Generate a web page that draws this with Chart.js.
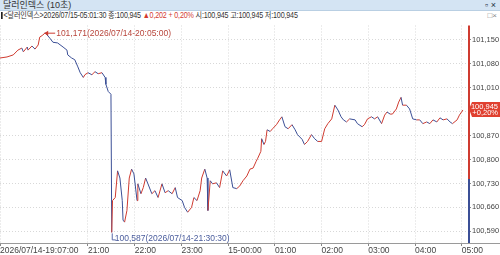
<!DOCTYPE html>
<html>
<head>
<meta charset="utf-8">
<script src="https://cdn.jsdelivr.net/npm/chart.js@4"></script>
<style>
    body { margin: 0; width: 500px; height: 255px; overflow: hidden; background: #fff;
           font-family: "Liberation Sans", "Noto Sans CJK KR", sans-serif; color: #333; }
    #titlebar { position: absolute; left: 0; top: 0; width: 500px; height: 10px; background: #d4e4f3;
                border-bottom: 1px solid #b9cfe3; font-size: 9px; line-height: 10px; }
    #titlebar .name { position: absolute; left: 3px; top: 0; }
    #titlebar .btn { position: absolute; right: 4px; top: 0; font-size: 9px; color: #234; }
    #info { position: absolute; left: 1px; top: 11px; font-size: 8.5px; line-height: 9px; white-space: nowrap;
            letter-spacing: -0.2px; transform: scaleX(0.84); transform-origin: 0 0; }
    #info .up { color: #d43a2f; }
    #info .box { display: inline-block; width: 2px; height: 7px; background: #222; margin-right: 1px; vertical-align: -1px; }
    #winbtn { position: absolute; right: 3px; top: 11px; font-size: 8px; color: #888; }
    #wrap { position: absolute; left: 0; top: 20px; width: 500px; height: 235px; }
</style>
</head>
<body>
<div id="titlebar"><span class="name">달러인덱스 (10초)</span><span class="btn">▫ ×</span></div>
<div id="info"><span class="box"></span>&lt;달러인덱스&gt;2026/07/15-05:01:30 종:100,945 <span class="up">▲0,202 + 0,20%</span> 시:100,945 고:100,945 저:100,945</div>
<div id="winbtn">□×</div>
<div id="wrap"><canvas id="chart"></canvas></div>

<script>
// minutes after 2026/07/14 19:07:00
const minutes = [
    0, 9, 17, 23, 28, 30, 35, 36, 41, 45, 49, 51, 55, 58, 64, 68, 74, 81, 86, 87,
    92, 96, 100, 103, 107, 109, 113, 118, 122, 126, 131, 135, 136, 139, 142.5, 143.5, 144.5, 148, 151, 154,
    157, 158, 160, 163, 166, 169, 172, 176, 177, 181, 184, 187, 190, 195, 199, 203, 208, 212, 216, 221,
    225, 228, 234, 237, 241, 246, 249, 253, 257, 259, 263, 266, 267, 270, 273, 278, 282, 286, 291, 295,
    299, 304, 308, 312, 317, 321, 325, 329, 331, 335, 336, 339, 341, 343, 347, 350, 355, 359, 362, 366,
    370, 375, 379, 382, 388, 391, 395, 400, 404, 408, 413, 417, 421, 426, 430, 434, 438, 441, 445, 449,
    456, 459, 465, 468, 472, 477, 481, 485, 490, 494, 497, 501, 504, 509, 512, 515, 517, 522, 526, 530,
    535, 539, 543, 548, 552, 556, 561, 565, 569, 574, 578, 581, 587, 590, 594.5
];
const prices = [
    101.097, 101.100, 101.106, 101.120, 101.126, 101.115, 101.129, 101.120, 101.132, 101.123,
    101.135, 101.158, 101.164, 101.171, 101.155, 101.143, 101.141, 101.129, 101.120, 101.106,
    101.097, 101.092, 101.071, 101.054, 101.040, 101.048, 101.054, 101.048, 101.057, 101.051,
    101.054, 101.040, 101.020, 100.999, 100.991, 100.587, 100.680, 100.689, 100.767, 100.746,
    100.680, 100.623, 100.617, 100.651, 100.746, 100.772, 100.758, 100.680, 100.729, 100.700,
    100.718, 100.746, 100.729, 100.700, 100.709, 100.689, 100.729, 100.703, 100.709, 100.700,
    100.718, 100.689, 100.680, 100.660, 100.646, 100.660, 100.689, 100.680, 100.709, 100.746,
    100.772, 100.746, 100.651, 100.738, 100.729, 100.732, 100.718, 100.767, 100.752, 100.770,
    100.718, 100.715, 100.723, 100.738, 100.752, 100.772, 100.775, 100.795, 100.804, 100.824,
    100.861, 100.844, 100.853, 100.887, 100.882, 100.890, 100.902, 100.916, 100.925, 100.896,
    100.890, 100.902, 100.887, 100.873, 100.859, 100.844, 100.853, 100.873, 100.861, 100.853,
    100.853, 100.890, 100.905, 100.919, 100.959, 100.945, 100.925, 100.916, 100.910, 100.919,
    100.916, 100.905, 100.896, 100.902, 100.919, 100.925, 100.919, 100.925, 100.905, 100.930,
    100.939, 100.933, 100.933, 100.948, 100.968, 100.982, 100.959, 100.959, 100.948, 100.919,
    100.916, 100.916, 100.905, 100.910, 100.905, 100.916, 100.910, 100.922, 100.916, 100.919,
    100.910, 100.905, 100.916, 100.930, 100.945
];

const xTicks = [0, 113, 173, 233, 293, 353, 413, 473, 533, 593];
const xTickLabels = ["2026/07/14-19:07:00", "21:00", "22:00", "23:00", "15-00:00",
                     "01:00", "02:00", "03:00", "04:00", "05:00"];
const yTicks = [100.59, 100.66, 100.73, 100.80, 100.87, 100.94, 101.01, 101.08, 101.15];

const prevClose = 100.743;
const lastPrice = 100.945;
const lastChange = "+0,20%";
const highMark = [58, 101.171, "101,171(2026/07/14-20:05:00)"];
const lowMark = [143.5, 100.587, "100,587(2026/07/14-21:30:30)"];

const RED = "#cf3b30";
const BLUE = "#3b4f96";
const fmt = v => v.toFixed(3).replace(".", ",");
const FAMILY = "'Liberation Sans Narrow', 'Liberation Sans', sans-serif";

const overlay = {
    id: "overlay",
    afterDraw(chart) {
        const { ctx, chartArea: a, scales: { x, y } } = chart;
        ctx.save();

        // bottom axis line across the full width
        ctx.strokeStyle = "#9a9a9a";
        ctx.lineWidth = 1;
        ctx.beginPath();
        ctx.moveTo(0, a.bottom + 0.5);
        ctx.lineTo(chart.width, a.bottom + 0.5);
        ctx.stroke();

        // right axis: red above previous close, blue below
        const split = y.getPixelForValue(prevClose);
        ctx.lineWidth = 2;
        ctx.strokeStyle = RED;
        ctx.beginPath();
        ctx.moveTo(a.right + 1, a.top);
        ctx.lineTo(a.right + 1, split);
        ctx.stroke();
        ctx.strokeStyle = BLUE;
        ctx.beginPath();
        ctx.moveTo(a.right + 1, split);
        ctx.lineTo(a.right + 1, a.bottom);
        ctx.stroke();

        // high annotation
        ctx.font = "8.5px " + FAMILY;
        ctx.textBaseline = "middle";
        let px = x.getPixelForValue(highMark[0]);
        let py = y.getPixelForValue(highMark[1]);
        ctx.lineWidth = 1;
        ctx.strokeStyle = RED;
        ctx.fillStyle = RED;
        ctx.beginPath();
        ctx.moveTo(px + 1, py + 0.5);
        ctx.lineTo(px + 10, py + 0.5);
        ctx.stroke();
        ctx.beginPath();
        ctx.moveTo(px - 1, py + 0.5);
        ctx.lineTo(px + 3, py - 2);
        ctx.lineTo(px + 3, py + 3);
        ctx.fill();
        ctx.fillStyle = "#b8463c";
        ctx.fillText(highMark[2], px + 11, py + 1);

        // low annotation
        px = x.getPixelForValue(lowMark[0]);
        py = y.getPixelForValue(lowMark[1]);
        ctx.strokeStyle = "#5a6aa8";
        ctx.beginPath();
        ctx.moveTo(px + 0.5, py + 1);
        ctx.lineTo(px + 0.5, py + 7.5);
        ctx.lineTo(px + 4, py + 7.5);
        ctx.stroke();
        ctx.fillStyle = "#4a5c9c";
        ctx.fillText(lowMark[2], px + 3, py + 6);

        // current price tag
        const ty = y.getPixelForValue(lastPrice);
        ctx.fillStyle = "#e0402f";
        ctx.beginPath();
        ctx.moveTo(a.right + 1, ty - 1);
        ctx.lineTo(a.right + 4, ty - 8);
        ctx.lineTo(chart.width, ty - 8);
        ctx.lineTo(chart.width, ty + 7);
        ctx.lineTo(a.right + 4, ty + 7);
        ctx.closePath();
        ctx.fill();
        ctx.fillStyle = "#fff";
        ctx.textAlign = "right";
        ctx.font = "7.5px " + FAMILY;
        ctx.fillText(fmt(lastPrice), chart.width - 2, ty - 3.5);
        ctx.fillText(lastChange, chart.width - 2, ty + 3);
        ctx.restore();
    }
};

new Chart(document.getElementById("chart"), {
    type: "line",
    data: {
        datasets: [{
            data: minutes.map((m, i) => ({ x: m, y: prices[i] })),
            borderWidth: 1,
            borderColor: RED,
            pointRadius: 0,
            tension: 0,
            segment: {
                borderColor: c => c.p1.parsed.y >= c.p0.parsed.y ? RED : BLUE
            }
        }]
    },
    options: {
        responsive: true,
        maintainAspectRatio: false,
        animation: false,
        layout: { padding: { top: 2, left: 0, right: 0, bottom: 0 } },
        plugins: { legend: { display: false }, tooltip: { enabled: false } },
        scales: {
            x: {
                type: "linear",
                min: 0,
                max: 601,
                afterBuildTicks: s => { s.ticks = xTicks.map(v => ({ value: v })); },
                afterFit: s => { s.height = 12; },
                ticks: {
                    align: "start",
                    padding: 0,
                    color: "#444",
                    font: { family: FAMILY, size: 8.5 },
                    maxRotation: 0,
                    autoSkip: false,
                    callback: (v, i) => xTickLabels[i]
                },
                grid: { color: "#d8d8d8", tickLength: 3, tickColor: "#888", tickBorderDash: [] },
                border: { display: false, dash: [1, 2] }
            },
            y: {
                position: "right",
                min: 100.556,
                max: 101.192,
                afterBuildTicks: s => { s.ticks = yTicks.map(v => ({ value: v })); },
                afterFit: s => { s.width = 32; },
                ticks: {
                    padding: 1,
                    color: "#444",
                    font: { family: FAMILY, size: 7.5 },
                    callback: v => fmt(v)
                },
                grid: { color: "#d8d8d8", tickLength: 3, tickColor: "#888", tickBorderDash: [] },
                border: { display: false, dash: [1, 2] }
            }
        }
    },
    plugins: [overlay]
});
</script>
</body>
</html>
